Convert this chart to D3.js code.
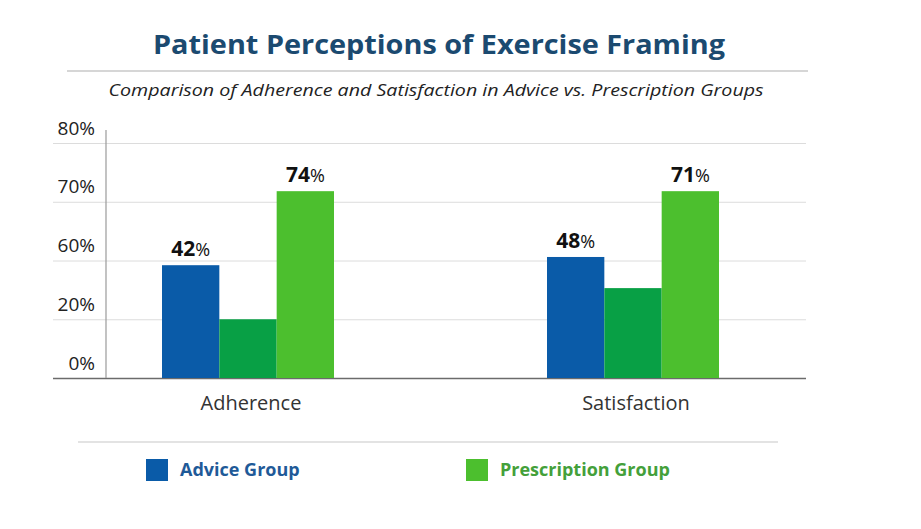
<!DOCTYPE html>
<html>
<head>
<meta charset="utf-8">
<script src="https://cdn.jsdelivr.net/npm/d3@7"></script>
<style>
  body { margin: 0; background: #fff; }
  text { font-family: "Open Sans", "Noto Sans", sans-serif; }
</style>
</head>
<body>
<div id="chart"></div>
<script>
// DATA
const categories = ["Adherence", "Satisfaction"];
const seriesNames = ["Advice Group", "Middle Group", "Prescription Group"];
// bar heights, in axis-step units (0..4 = the five ticks)
const adviceHeights = [1.92, 2.06];
const middleHeights = [1.0, 1.53];
const prescriptionHeights = [3.18, 3.18];
// printed value labels (the middle bars carry none)
const adviceLabels = ["42", "48"];
const prescriptionLabels = ["74", "71"];
const tickSteps = [0, 1, 2, 3, 4];
const tickLabels = ["0%", "20%", "60%", "70%", "80%"];
const legendNames = ["Advice Group", "Prescription Group"];

const colors = { "Advice Group": "#0a5ba8", "Middle Group": "#08a045", "Prescription Group": "#4cbf2e" };

const width = 921, height = 529;

const rows = categories.map((c, i) => ({
  category: c,
  values: [
    { series: seriesNames[0], h: adviceHeights[i], label: adviceLabels[i] },
    { series: seriesNames[1], h: middleHeights[i], label: null },
    { series: seriesNames[2], h: prescriptionHeights[i], label: prescriptionLabels[i] }
  ]
}));

const svg = d3.select("#chart").append("svg")
  .attr("width", width)
  .attr("height", height);

// TITLE
svg.append("text")
  .attr("x", 439).attr("y", 54)
  .attr("text-anchor", "middle")
  .attr("font-size", 27).attr("font-weight", 700)
  .attr("fill", "#1b4a70")
  .attr("textLength", 572).attr("lengthAdjust", "spacingAndGlyphs")
  .text("Patient Perceptions of Exercise Framing");

svg.append("line")
  .attr("x1", 67).attr("x2", 808).attr("y1", 71).attr("y2", 71)
  .attr("stroke", "#c8c8c8").attr("stroke-width", 1.5);

svg.append("text")
  .attr("x", 436).attr("y", 96)
  .attr("text-anchor", "middle")
  .attr("font-size", 17).attr("font-style", "italic")
  .attr("fill", "#222")
  .attr("textLength", 655).attr("lengthAdjust", "spacingAndGlyphs")
  .text("Comparison of Adherence and Satisfaction in Advice vs. Prescription Groups");

// SCALES
const y = d3.scaleLinear().domain([0, 4]).range([378, 143]);
const x0 = d3.scalePoint().domain(categories).range([248, 633]);
const x1 = d3.scaleBand().domain(seriesNames).range([-86, 86]).paddingInner(0);

// AXIS (gridlines + labels above them)
const gridLeft = 53, gridRight = 806;
const yAxis = d3.axisRight(y)
  .tickValues(tickSteps)
  .tickFormat(i => tickLabels[i])
  .tickSize(gridRight - gridLeft);

const ax = svg.append("g")
  .attr("class", "axis y-axis")
  .attr("transform", `translate(${gridLeft},0)`)
  .call(yAxis);
ax.select(".domain").remove();
ax.selectAll(".tick line")
  .attr("stroke", (d, i) => i === 0 ? "#6b6b6b" : "#dcdcdc")
  .attr("stroke-width", (d, i) => i === 0 ? 1.5 : 1);
ax.selectAll(".tick text")
  .attr("x", 42).attr("dy", -9)
  .attr("text-anchor", "end")
  .attr("font-size", 19)
  .attr("fill", "#222");

svg.append("line")
  .attr("x1", 106).attr("x2", 106)
  .attr("y1", 130).attr("y2", y(0))
  .attr("stroke", "#9a9a9a").attr("stroke-width", 1.2);

// BARS
const groups = svg.selectAll(".group")
  .data(rows)
  .join("g")
  .attr("class", "group")
  .attr("transform", d => `translate(${x0(d.category)},0)`);

groups.selectAll("rect")
  .data(d => d.values)
  .join("rect")
  .attr("x", d => x1(d.series))
  .attr("width", x1.bandwidth())
  .attr("y", d => y(d.h))
  .attr("height", d => y(0) - y(d.h))
  .attr("fill", d => colors[d.series]);

const lbl = groups.selectAll(".val")
  .data(d => d.values.filter(v => v.label))
  .join("text")
  .attr("class", "val")
  .attr("x", d => x1(d.series) + x1.bandwidth() / 2)
  .attr("y", d => y(d.h) - 9)
  .attr("text-anchor", "middle")
  .attr("fill", "#111");
lbl.append("tspan").attr("font-size", 21).attr("font-weight", 700).text(d => d.label);
lbl.append("tspan").attr("font-size", 18).text("%");

// CATEGORY LABELS
svg.selectAll(".cat")
  .data(categories)
  .join("text")
  .attr("class", "cat")
  .attr("x", d => x0(d) + 3)
  .attr("y", 410)
  .attr("text-anchor", "middle")
  .attr("font-size", 20)
  .attr("fill", "#333")
  .text(d => d);

// LEGEND
svg.append("line")
  .attr("x1", 78).attr("x2", 778).attr("y1", 442).attr("y2", 442)
  .attr("stroke", "#c8c8c8").attr("stroke-width", 1.2);

const legendX = d3.scalePoint().domain(legendNames).range([146, 466]);
const legendText = { "Advice Group": "#1f5a98", "Prescription Group": "#44a03a" };

const leg = svg.selectAll(".legend")
  .data(legendNames)
  .join("g")
  .attr("class", "legend")
  .attr("transform", d => `translate(${legendX(d)},459)`);
leg.append("rect")
  .attr("width", 22).attr("height", 22)
  .attr("fill", d => colors[d]);
leg.append("text")
  .attr("x", 34).attr("y", 17)
  .attr("font-size", 18).attr("font-weight", 700)
  .attr("fill", d => legendText[d])
  .text(d => d);
</script>
</body>
</html>
